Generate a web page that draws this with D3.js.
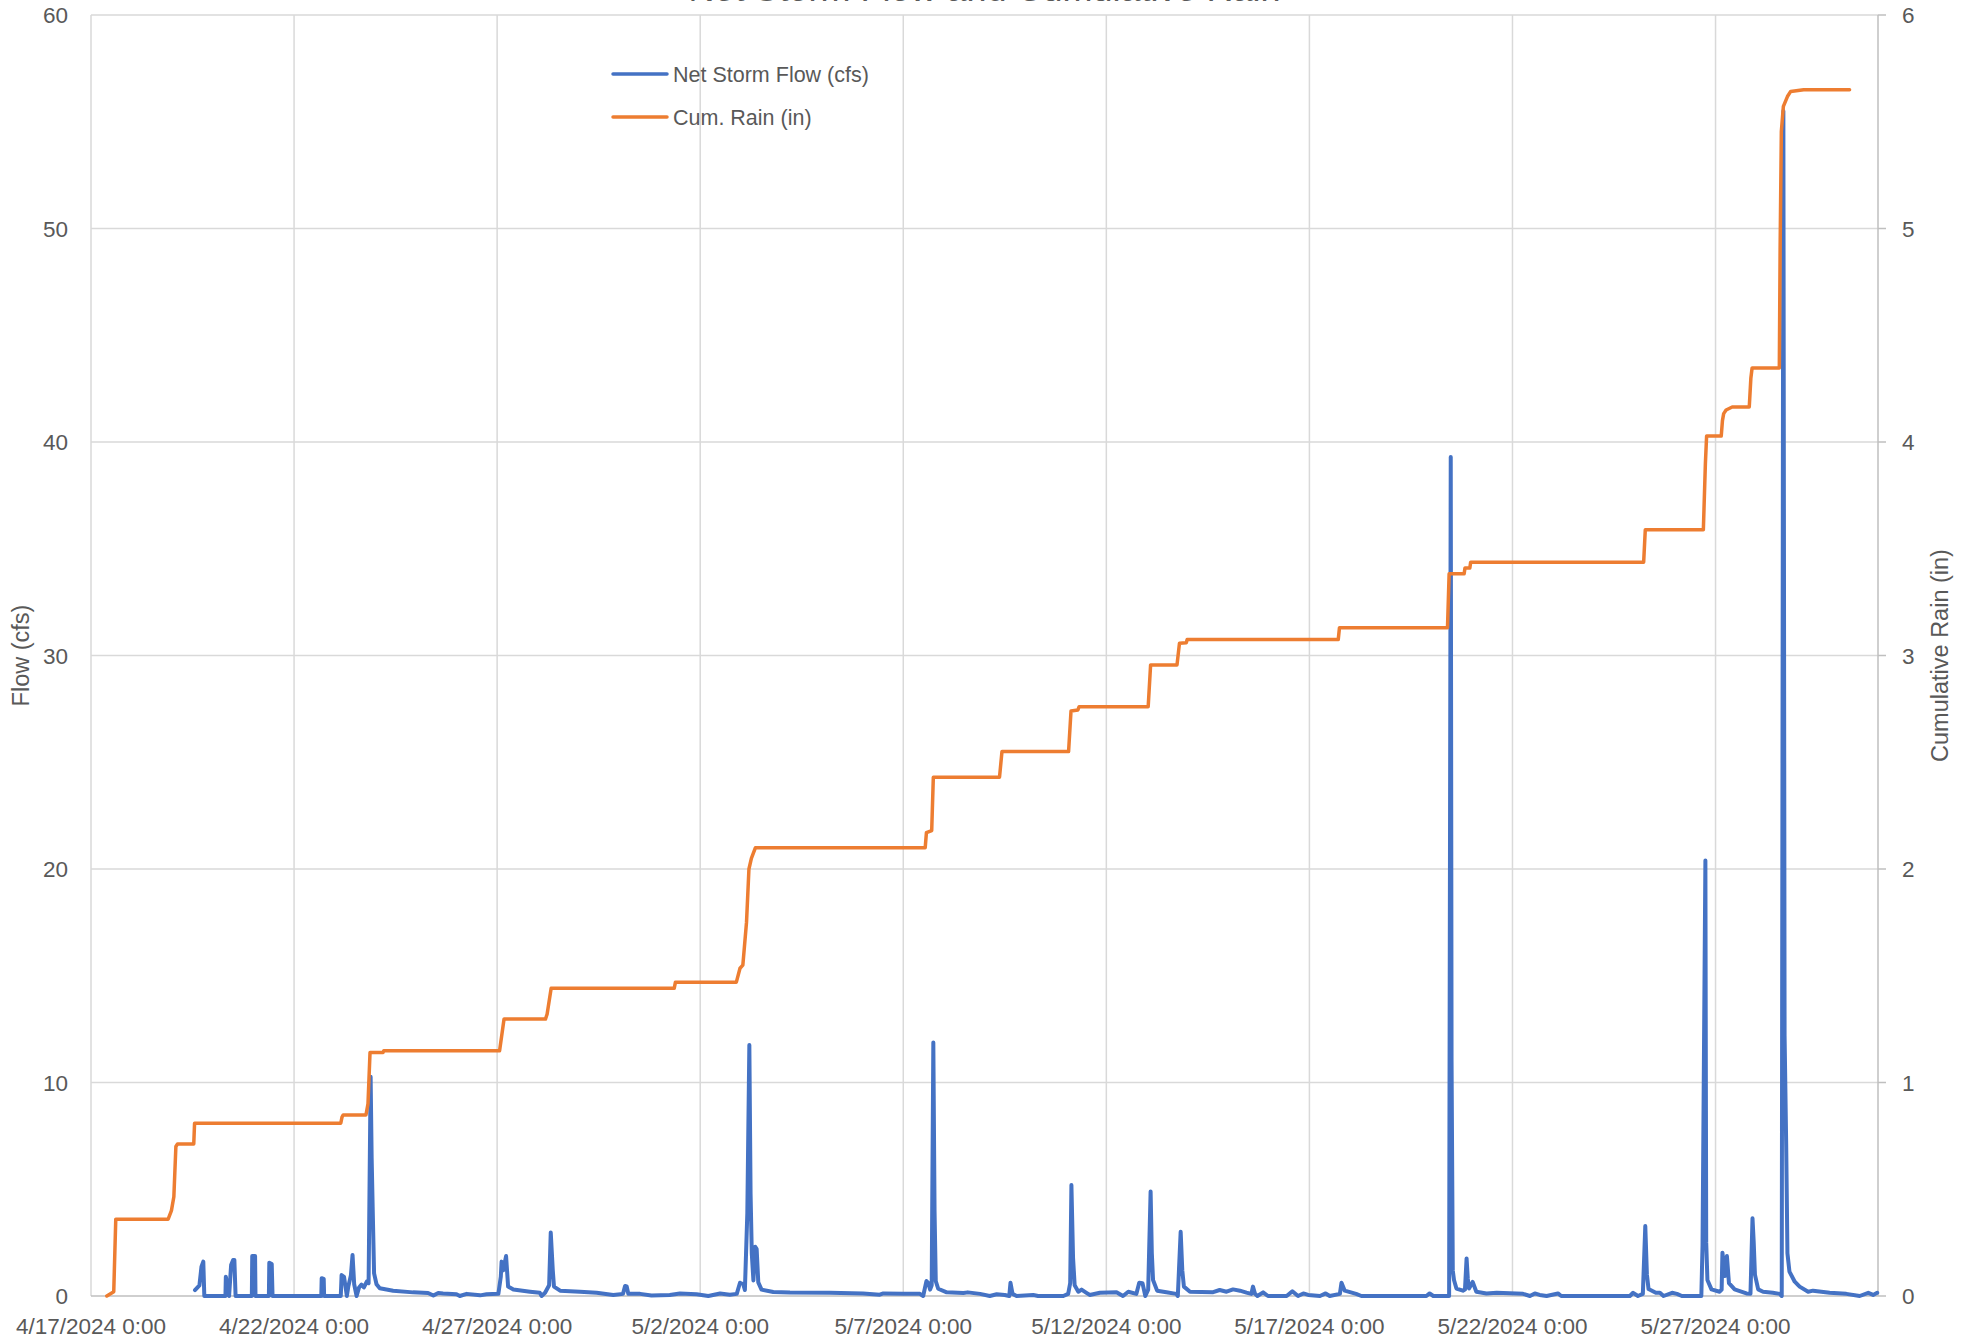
<!DOCTYPE html>
<html>
<head>
<meta charset="utf-8">
<script src="https://cdn.jsdelivr.net/npm/d3@7"></script>
<style>
    body { margin: 0; background: #fff; }
    svg { display: block; font-family: "Liberation Sans", Arial, sans-serif; }
    .grid line { stroke: #d9d9d9; stroke-width: 1.5; }
    .tick-label { fill: #595959; font-size: 22.5px; }
</style>
</head>
<body>
<div id="chart"></div>
<script>
// series as [days after 4/17/2024 0:00, value]
var flowData = [
    [2.56, 0.28], [2.67, 0.5], [2.72, 1.37], [2.765, 1.61], [2.79, 0],
    [3.31, 0], [3.32, 0.9], [3.40, 0], [3.45, 1.45], [3.50, 1.69], [3.53, 1.69], [3.56, 0],
    [3.96, 0], [3.97, 1.87], [4.04, 1.87], [4.05, 0],
    [4.38, 0], [4.39, 1.56], [4.45, 1.5], [4.47, 0],
    [5.67, 0], [5.68, 0.83], [5.73, 0.8], [5.74, 0],
    [6.15, 0], [6.17, 0.98], [6.23, 0.9], [6.30, 0], [6.335, 0.44], [6.40, 0.98], [6.44, 1.92],
    [6.48, 0.55], [6.54, 0], [6.60, 0.4], [6.66, 0.53], [6.72, 0.4], [6.79, 0.67], [6.835, 0.6],
    [6.885, 10.27], [6.91, 6.5], [6.935, 4.18], [6.97, 1.06], [7.03, 0.55], [7.11, 0.36],
    [7.44, 0.25], [7.93, 0.17], [8.30, 0.14], [8.43, 0.02], [8.55, 0.14], [8.67, 0.12],
    [9.00, 0.08], [9.08, 0.0], [9.25, 0.1], [9.58, 0.03], [9.74, 0.08], [10.03, 0.1],
    [10.09, 0.9], [10.11, 1.61], [10.15, 1.2], [10.22, 1.87], [10.27, 0.44], [10.40, 0.3],
    [10.81, 0.2], [11.05, 0.15], [11.095, 0.0], [11.18, 0.15], [11.28, 0.5], [11.32, 2.97],
    [11.37, 1.2], [11.40, 0.44], [11.55, 0.25], [12.04, 0.2], [12.45, 0.15], [12.86, 0.05],
    [13.10, 0.1], [13.15, 0.47], [13.19, 0.45], [13.23, 0.1], [13.52, 0.1], [13.80, 0.02],
    [14.25, 0.05], [14.50, 0.12], [14.91, 0.08], [15.20, 0.0], [15.49, 0.12], [15.73, 0.06],
    [15.90, 0.1], [15.98, 0.62], [16.06, 0.55], [16.10, 0.28], [16.16, 3.87], [16.21, 11.76],
    [16.24, 4.81], [16.27, 2.0], [16.31, 0.73], [16.355, 2.31], [16.39, 2.2], [16.43, 0.64],
    [16.51, 0.3], [16.80, 0.19], [17.21, 0.16], [18.19, 0.15], [19.01, 0.12], [19.42, 0.06],
    [19.51, 0.12], [20.00, 0.1], [20.41, 0.1], [20.49, 0.0], [20.57, 0.7], [20.62, 0.6],
    [20.66, 0.3], [20.70, 0.5], [20.74, 11.87], [20.77, 4.0], [20.80, 0.7], [20.86, 0.34],
    [21.07, 0.17], [21.48, 0.14], [21.59, 0.17], [21.89, 0.1], [22.13, 0.0], [22.30, 0.08],
    [22.50, 0.05], [22.61, 0.0], [22.64, 0.62], [22.69, 0.1], [22.79, 0.0], [23.20, 0.05],
    [23.32, 0.0], [23.94, 0.0], [24.06, 0.1], [24.11, 0.6], [24.14, 5.2], [24.18, 1.8],
    [24.22, 0.5], [24.31, 0.2], [24.39, 0.3], [24.51, 0.15], [24.59, 0.05], [24.84, 0.15],
    [25.25, 0.18], [25.41, 0.0], [25.54, 0.2], [25.74, 0.1], [25.81, 0.62], [25.89, 0.6],
    [25.96, 0.0], [26.03, 0.3], [26.09, 4.89], [26.12, 2.0], [26.15, 0.75], [26.25, 0.25],
    [26.48, 0.18], [26.72, 0.1], [26.76, 0.0], [26.83, 3.01], [26.87, 1.2], [26.91, 0.44],
    [27.06, 0.2], [27.63, 0.18], [27.79, 0.28], [27.96, 0.2], [28.12, 0.31], [28.29, 0.25],
    [28.45, 0.16], [28.57, 0.1], [28.61, 0.44], [28.66, 0.1], [28.72, 0.0], [28.86, 0.17],
    [28.98, 0.0], [29.44, 0.0], [29.58, 0.22], [29.72, 0.0], [29.85, 0.12], [29.97, 0.05],
    [30.26, 0.0], [30.40, 0.12], [30.50, 0.0], [30.75, 0.1], [30.79, 0.62], [30.87, 0.25],
    [31.15, 0.1], [31.28, 0.0], [32.88, 0.0], [32.96, 0.12], [33.05, 0.0], [33.44, 0.0],
    [33.48, 39.3], [33.50, 11.0], [33.53, 1.2], [33.56, 0.75], [33.62, 0.35], [33.78, 0.25],
    [33.83, 0.3], [33.87, 1.76], [33.90, 0.8], [33.93, 0.35], [34.02, 0.66], [34.11, 0.2],
    [34.36, 0.12], [34.61, 0.15], [35.26, 0.1], [35.43, 0.0], [35.55, 0.12], [35.67, 0.05],
    [35.84, 0.0], [36.12, 0.12], [36.20, 0.0], [37.89, 0.0], [37.97, 0.15], [38.09, 0.0],
    [38.21, 0.1], [38.27, 3.28], [38.31, 1.0], [38.35, 0.33], [38.53, 0.15], [38.63, 0.15],
    [38.72, 0.0], [38.93, 0.15], [39.05, 0.1], [39.17, 0.0], [39.65, 0.0], [39.68, 2.39],
    [39.75, 20.4], [39.77, 2.5], [39.80, 0.75], [39.90, 0.31], [40.10, 0.2], [40.15, 0.3],
    [40.17, 2.03], [40.23, 0.94], [40.28, 1.87], [40.33, 0.6], [40.47, 0.31], [40.76, 0.12],
    [40.86, 0.1], [40.91, 3.64], [40.94, 2.5], [40.97, 1.0], [41.05, 0.31], [41.17, 0.2],
    [41.41, 0.15], [41.58, 0.1], [41.63, 0.0], [41.67, 55.5], [41.70, 12.2], [41.74, 7.0],
    [41.77, 2.0], [41.82, 1.14], [41.95, 0.67], [42.07, 0.44], [42.28, 0.2], [42.40, 0.25],
    [42.81, 0.15], [43.22, 0.1], [43.55, 0.0], [43.76, 0.15], [43.88, 0.05], [43.98, 0.15]
];

var rainData = [
    [0.39, 0.0], [0.56, 0.02], [0.61, 0.36], [1.90, 0.36], [1.98, 0.40], [2.04, 0.465],
    [2.09, 0.70], [2.13, 0.712], [2.53, 0.712], [2.55, 0.809], [6.15, 0.809], [6.18, 0.838],
    [6.21, 0.848], [6.77, 0.848], [6.82, 0.90], [6.87, 1.14], [7.19, 1.14], [7.21, 1.149],
    [10.06, 1.149], [10.12, 1.23], [10.17, 1.297], [11.19, 1.297], [11.23, 1.32], [11.33, 1.441],
    [14.36, 1.441], [14.39, 1.47], [15.89, 1.47], [15.98, 1.535], [16.05, 1.55], [16.14, 1.75],
    [16.20, 2.0], [16.26, 2.05], [16.36, 2.10], [20.54, 2.10], [20.57, 2.17], [20.70, 2.18],
    [20.74, 2.43], [22.37, 2.43], [22.43, 2.55], [24.07, 2.55], [24.13, 2.74], [24.30, 2.745],
    [24.33, 2.76], [26.03, 2.76], [26.09, 2.956], [26.74, 2.956], [26.80, 3.057], [26.97, 3.06],
    [26.99, 3.075], [30.71, 3.075], [30.74, 3.13], [33.40, 3.13], [33.44, 3.383], [33.81, 3.383],
    [33.83, 3.41], [33.95, 3.41], [33.97, 3.437], [38.23, 3.437], [38.27, 3.589], [39.70, 3.589],
    [39.75, 3.90], [39.78, 4.028], [40.14, 4.028], [40.17, 4.10], [40.20, 4.133], [40.26, 4.15],
    [40.41, 4.164], [40.83, 4.164], [40.87, 4.30], [40.90, 4.347], [41.57, 4.347], [41.59, 4.9],
    [41.62, 5.455], [41.67, 5.572], [41.77, 5.618], [41.85, 5.642], [42.17, 5.650], [43.30, 5.650]
];

var tickLabels = ["4/17/2024 0:00", "4/22/2024 0:00", "4/27/2024 0:00", "5/2/2024 0:00", "5/7/2024 0:00",
    "5/12/2024 0:00", "5/17/2024 0:00", "5/22/2024 0:00", "5/27/2024 0:00"];
var flowTicks = [0, 10, 20, 30, 40, 50, 60];
var rainTicks = [0, 1, 2, 3, 4, 5, 6];
var seriesNames = ["Net Storm Flow (cfs)", "Cum. Rain (in)"];
var seriesColors = ["#4472C4", "#ED7D31"];

var W = 1974, H = 1342;
var margin = {top: 15, right: 96, bottom: 46, left: 91};

var parseTick = d3.timeParse("%m/%d/%Y %H:%M");
var start = parseTick(tickLabels[0]);
var end = d3.timeDay.offset(start, 44);

function toDate(day) {
    return new Date(start.getTime() + day * 864e5);
}

var x = d3.scaleTime()
    .domain([start, end])
    .range([margin.left, W - margin.right]);

var yFlow = d3.scaleLinear()
    .domain([0, 60])
    .range([H - margin.bottom, margin.top]);

var yRain = d3.scaleLinear()
    .domain([0, 6])
    .range([H - margin.bottom, margin.top]);

var svg = d3.select("#chart").append("svg")
    .attr("width", W)
    .attr("height", H);

// title sits above the window, only its lowest pixels show
svg.append("text")
    .attr("x", (margin.left + W - margin.right) / 2)
    .attr("y", 1)
    .attr("text-anchor", "middle")
    .style("font-size", "36px")
    .style("fill", "#595959")
    .text("Net Storm Flow and Cumulative Rain");

// gridlines
var grid = svg.append("g").attr("class", "grid");

grid.selectAll(".hgrid")
    .data(flowTicks.slice(1))
    .enter().append("line")
    .attr("x1", margin.left)
    .attr("x2", W - margin.right)
    .attr("y1", function (d) { return yFlow(d); })
    .attr("y2", function (d) { return yFlow(d); });

grid.selectAll(".vgrid")
    .data(tickLabels)
    .enter().append("line")
    .attr("x1", function (d) { return x(parseTick(d)); })
    .attr("x2", function (d) { return x(parseTick(d)); })
    .attr("y1", margin.top)
    .attr("y2", H - margin.bottom);

// bottom and right axis lines
svg.append("line")
    .attr("x1", margin.left).attr("x2", W - margin.right)
    .attr("y1", yFlow(0)).attr("y2", yFlow(0))
    .style("stroke", "#bfbfbf").style("stroke-width", 1.5);

svg.append("line")
    .attr("x1", W - margin.right).attr("x2", W - margin.right)
    .attr("y1", margin.top).attr("y2", H - margin.bottom)
    .style("stroke", "#bfbfbf").style("stroke-width", 1.5);

svg.selectAll(".rtick")
    .data(rainTicks)
    .enter().append("line")
    .attr("x1", W - margin.right)
    .attr("x2", W - margin.right + 8)
    .attr("y1", function (d) { return yRain(d); })
    .attr("y2", function (d) { return yRain(d); })
    .style("stroke", "#bfbfbf").style("stroke-width", 1.5);

// tick labels
svg.selectAll(".ylabel")
    .data(flowTicks)
    .enter().append("text")
    .attr("class", "tick-label")
    .attr("x", margin.left - 23)
    .attr("y", function (d) { return yFlow(d); })
    .attr("dy", "0.36em")
    .attr("text-anchor", "end")
    .text(function (d) { return d; });

svg.selectAll(".rlabel")
    .data(rainTicks)
    .enter().append("text")
    .attr("class", "tick-label")
    .attr("x", W - margin.right + 24)
    .attr("y", function (d) { return yRain(d); })
    .attr("dy", "0.36em")
    .text(function (d) { return d; });

svg.selectAll(".xlabel")
    .data(tickLabels)
    .enter().append("text")
    .attr("class", "tick-label")
    .attr("x", function (d) { return x(parseTick(d)); })
    .attr("y", H - 8)
    .attr("text-anchor", "middle")
    .text(function (d) { return d; });

// axis titles
svg.append("text")
    .attr("transform", "translate(29," + (margin.top + H - margin.bottom) / 2 + ") rotate(-90)")
    .attr("text-anchor", "middle")
    .style("font-size", "23.5px")
    .style("fill", "#595959")
    .text("Flow (cfs)");

svg.append("text")
    .attr("transform", "translate(1948," + (margin.top + H - margin.bottom) / 2 + ") rotate(-90)")
    .attr("text-anchor", "middle")
    .style("font-size", "23.5px")
    .style("fill", "#595959")
    .text("Cumulative Rain (in)");

// series
var flowLine = d3.line()
    .x(function (d) { return x(toDate(d[0])); })
    .y(function (d) { return yFlow(d[1]); });

var rainLine = d3.line()
    .x(function (d) { return x(toDate(d[0])); })
    .y(function (d) { return yRain(d[1]); });

svg.append("path")
    .datum(flowData)
    .attr("d", flowLine)
    .style("fill", "none")
    .style("stroke", seriesColors[0])
    .style("stroke-width", 4)
    .style("stroke-linejoin", "round")
    .style("stroke-linecap", "round");

svg.append("path")
    .datum(rainData)
    .attr("d", rainLine)
    .style("fill", "none")
    .style("stroke", seriesColors[1])
    .style("stroke-width", 3.5)
    .style("stroke-linejoin", "round")
    .style("stroke-linecap", "round");

// legend
var legend = svg.selectAll(".legend")
    .data(seriesNames)
    .enter().append("g")
    .attr("class", "legend")
    .attr("transform", function (d, i) { return "translate(613," + (74 + i * 43) + ")"; });

legend.append("line")
    .attr("x1", 0).attr("x2", 54)
    .attr("y1", 0).attr("y2", 0)
    .style("stroke", function (d, i) { return seriesColors[i]; })
    .style("stroke-width", 3.5)
    .style("stroke-linecap", "round");

legend.append("text")
    .attr("x", 60)
    .attr("y", 0)
    .attr("dy", "0.36em")
    .style("font-size", "21.5px")
    .style("fill", "#595959")
    .text(function (d) { return d; });
</script>
</body>
</html>
